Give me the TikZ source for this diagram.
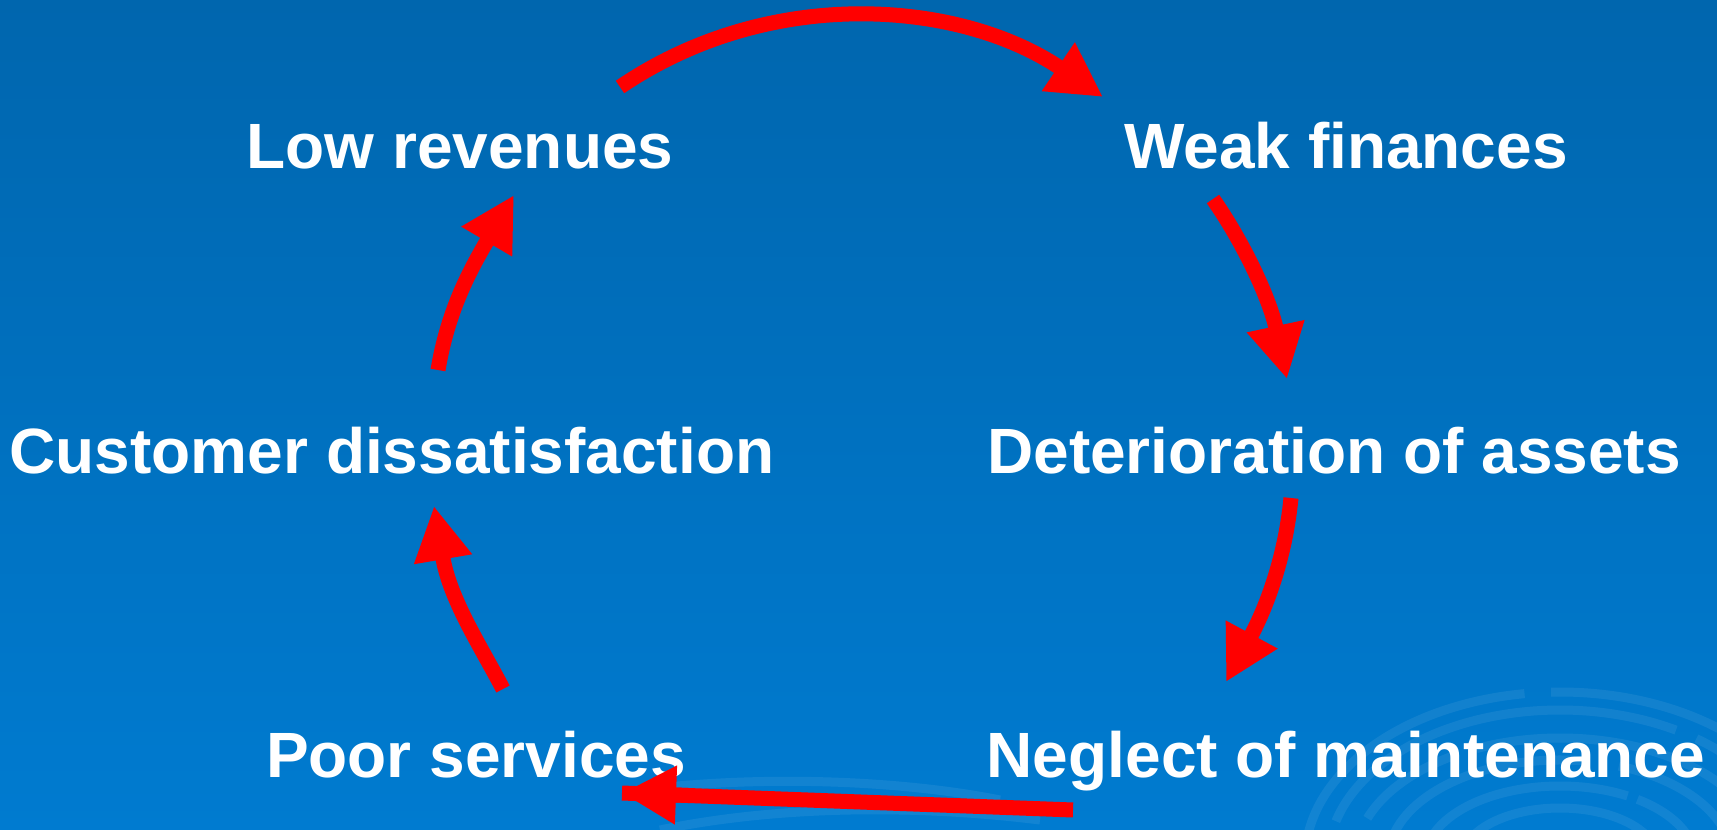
\documentclass[tikz,border=0pt]{standalone}
\usepackage{fontspec}
\setmainfont{Liberation Sans}
\usetikzlibrary{arrows.meta,calc}
\definecolor{bgtop}{RGB}{0,102,174}
\definecolor{bgmid}{RGB}{0,108,182}
\definecolor{bgbot}{RGB}{0,123,208}
\definecolor{loopred}{RGB}{255,0,0}
\begin{document}
\begin{tikzpicture}[x=0.01cm,y=-0.01cm,
  cyclelabel/.style={text=white, font=\bfseries\fontsize{18.2}{22}\selectfont, inner sep=0pt, anchor=base},
  shaft/.style={draw=loopred, line width=0.15cm},
  cyclearrow/.style={shaft, -{Triangle[length=0.54cm,width=0.55cm]}},
  ring/.style={draw=white, draw opacity=0.07, line width=0.09cm}]
% background
\shade[top color=bgtop, middle color=bgmid, bottom color=bgbot] (0,0) rectangle (1717,830);
\useasboundingbox (0,0) rectangle (1717,830);
% faint swirl in the lower right corner
\begin{scope}
\clip (0,0) rectangle (1717,830);
\coordinate (swirl) at (1560,860);
\foreach \rx/\ry/\a/\b/\c/\d in {255/168/188/262/268/360, 232/150/195/300/306/350, 205/122/200/240/246/355,
                                 172/100/190/280/290/340, 135/74/185/300/305/355, 98/52/190/350/350/350}{
  \draw[ring] (swirl) ++({\rx*cos(\a)},{\ry*sin(\a)}) arc[start angle=\a, end angle=\b, x radius=\rx, y radius=\ry];
  \draw[ring] (swirl) ++({\rx*cos(\c)},{\ry*sin(\c)}) arc[start angle=\c, end angle=\d, x radius=\rx, y radius=\ry];
}
\draw[ring] (640,790) .. controls (760,775) and (900,780) .. (1000,800);
\draw[ring] (660,830) .. controls (780,805) and (920,805) .. (1040,820);
\end{scope}
% labels of the cycle
\node[cyclelabel] (low)  at (460,168)  {Low revenues};
\node[cyclelabel] (weak) at (1346,168) {Weak finances};
\node[cyclelabel] (cust) at (392,473)  {Customer dissatisfaction};
\node[cyclelabel] (det)  at (1334,473) {Deterioration of assets};
\node[cyclelabel] (poor) at (476,777)  {Poor services};
\node[cyclelabel] (neg)  at (1346,777) {Neglect of maintenance};
% arrow end points
\coordinate (lowout)   at (620,87);
\coordinate (weakin)   at (1103,97);
\coordinate (weakout)  at (1213,199);
\coordinate (detin)    at (1287,379);
\coordinate (detout)   at (1291,498);
\coordinate (negin)    at (1226,682);
\coordinate (negout)   at (1073,810);
\coordinate (poorin)   at (622,793);
\coordinate (poorout)  at (503,689);
\coordinate (custin)   at (434,506);
\coordinate (custout)  at (438,370);
\coordinate (lowin)    at (514,195);
% arrows
\draw[cyclearrow] (lowout) .. controls (770,-15) and (960,0) .. (weakin);
\draw[cyclearrow] (weakout) .. controls (1245,245) and (1270,300) .. (detin);
\draw[cyclearrow] (detout) .. controls (1285,560) and (1265,610) .. (negin);
\draw[cyclearrow] (negout) -- (poorin);
\draw[shaft] ($(poorin)!0.15!(negout)$) -- (poorin);
\draw[cyclearrow] (poorout) .. controls (480,645) and (450,600) .. (custin);
\draw[cyclearrow] (custout) .. controls (448,310) and (470,270) .. (lowin);
\end{tikzpicture}
\end{document}
